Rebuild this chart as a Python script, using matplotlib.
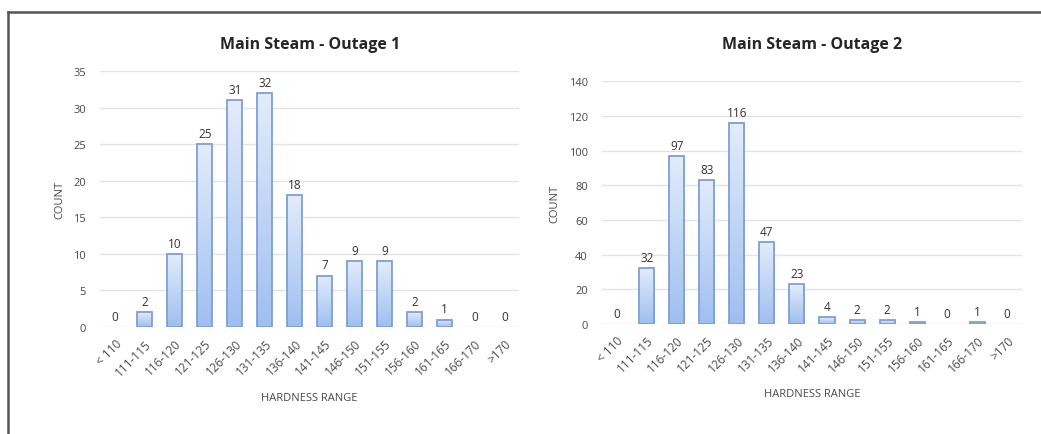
import numpy as np
import matplotlib
matplotlib.use('Agg')
import matplotlib.pyplot as plt
from matplotlib.colors import LinearSegmentedColormap
from matplotlib.lines import Line2D

plt.rcParams['font.family'] = ['Open Sans', 'DejaVu Sans']

ranges = ['< 110', '111-115', '116-120', '121-125', '126-130', '131-135', '136-140',
          '141-145', '146-150', '151-155', '156-160', '161-165', '166-170', '>170']
outage1 = [0, 2, 10, 25, 31, 32, 18, 7, 9, 9, 2, 1, 0, 0]
outage2 = [0, 32, 97, 83, 116, 47, 23, 4, 2, 2, 1, 0, 1, 0]

bar_cmap = LinearSegmentedColormap.from_list('bar_grad', ['#9fbff1', '#e2ecfb'])
edge_color = '#7f9fd2'
text_color = '#333333'
tick_color = '#4a4a4a'


def gradient_bars(ax, values, width=0.5):
    grad = np.linspace(0, 1, 100).reshape(-1, 1)
    for i, v in enumerate(values):
        if v <= 0:
            continue
        ax.imshow(grad, extent=[i - width / 2, i + width / 2, 0, v], origin='lower',
                  aspect='auto', cmap=bar_cmap, zorder=2)
        ax.bar(i, v, width, facecolor='none', edgecolor=edge_color,
               linewidth=1.3, zorder=3)


def draw_chart(ax, values, title, ymax, ystep, label_pad, title_y):
    gradient_bars(ax, values)
    for i, v in enumerate(values):
        ax.text(i, v + label_pad, str(v), ha='center', va='bottom', fontsize=8.5, color=text_color)
    ax.set_xlim(-0.5, len(values) - 0.5)
    ax.set_ylim(0, ymax)
    ax.set_yticks(np.arange(0, ymax + 1, ystep))
    ax.set_xticks(range(len(values)))
    ax.set_xticklabels(ranges, rotation=45, ha='right', rotation_mode='anchor')
    ax.tick_params(axis='both', length=0, labelsize=8, colors=tick_color)
    ax.tick_params(axis='x', labelsize=8.5, pad=7)
    ax.tick_params(axis='y', pad=10)
    ax.grid(axis='y', color='#e3e3e3', linewidth=1, zorder=0)
    ax.set_axisbelow(True)
    for s in ax.spines.values():
        s.set_visible(False)
    bb = ax.get_position()
    fig.text((bb.x0 + bb.x1) / 2, title_y, title, ha='center', va='center',
             fontsize=11.5, fontweight='bold', color='#262626')
    ax.set_ylabel('COUNT', fontsize=8, color=tick_color, labelpad=6)
    ax.set_xlabel('HARDNESS RANGE', fontsize=8, color=tick_color, labelpad=10)


fig = plt.figure(figsize=(10.41, 4.35), dpi=100)
ax1 = fig.add_axes([0.096, 0.246, 0.403, 0.588])
ax2 = fig.add_axes([0.578, 0.253, 0.404, 0.558])

draw_chart(ax1, outage1, 'Main Steam - Outage 1', 35, 5, 0.6, 1 - 45 / 435)
draw_chart(ax2, outage2, 'Main Steam - Outage 2', 140, 20, 2.4, 1 - 45 / 435)

# frame around the panel
fig.add_artist(Line2D([8 / 1041, 1.01], [1 - 13 / 435] * 2, color='#555555', linewidth=1.8))
fig.add_artist(Line2D([8 / 1041] * 2, [-0.01, 1 - 13 / 435], color='#555555', linewidth=1.8))

fig.savefig('out.png', dpi=100, facecolor='white')
